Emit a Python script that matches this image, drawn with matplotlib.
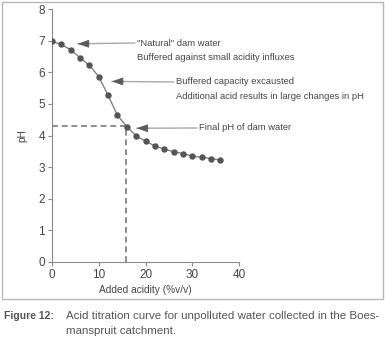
import matplotlib
matplotlib.use("Agg")
import matplotlib.pyplot as plt
from matplotlib.patches import Rectangle

added_acidity = [0, 2, 4, 6, 8, 10, 12, 14, 16, 18, 20, 22, 24, 26, 28, 30, 32, 34, 36]
ph_values = [6.98, 6.88, 6.71, 6.46, 6.22, 5.86, 5.27, 4.64, 4.28, 3.99, 3.82, 3.67, 3.57,
             3.49, 3.43, 3.35, 3.31, 3.27, 3.22]
final_x = 15.8
final_ph = 4.31
x_ticks = [0, 10, 20, 30, 40]
y_ticks = [0, 1, 2, 3, 4, 5, 6, 7, 8]
annotations = [
    (5.5, 6.90, ['"Natural" dam water', 'Buffered against small acidity influxes']),
    (12.8, 5.71, ['Buffered capacity excausted', 'Additional acid results in large changes in pH']),
    (18.1, 4.23, ['Final pH of dam water']),
]
caption_label = "Figure 12:"
caption_lines = ["Acid titration curve for unpolluted water collected in the Boes-",
                 "manspruit catchment."]

plt.rcParams['font.family'] = ['Liberation Sans', 'DejaVu Sans']
TXT = '#444444'
AX = '#8a8a8a'

W, H = 385, 347
fig = plt.figure(figsize=(W / 100, H / 100), dpi=100)
fig.patch.set_facecolor('white')
renderer = fig.canvas.get_renderer()


def fit_size(text, target_px, **kw):
    t = fig.text(0, 0, text, fontsize=10, **kw)
    w = t.get_window_extent(renderer=renderer).width
    t.remove()
    return 10 * target_px / w


# frame around plot area
fig.patches.append(Rectangle((1.5 / W, 1 - 299 / H), 381.5 / W, 297.5 / H,
                             transform=fig.transFigure, fill=False,
                             edgecolor='#b8b8b8', linewidth=1.0))

ax = fig.add_axes([52 / W, 1 - 262 / H, (239 - 52) / W, (262 - 9) / H])
ax.set_xlim(0, 40)
ax.set_ylim(0, 8)

ax.plot([0, final_x], [final_ph, final_ph], ls=(0, (3, 2)), color='#8c8c8c', lw=1.4, zorder=1)
ax.plot([final_x, final_x], [0, final_ph], ls=(0, (3, 2)), color='#8c8c8c', lw=1.4, zorder=1)

ax.plot(added_acidity, ph_values, color='#777777', lw=0.9, zorder=2)
ax.plot(added_acidity, ph_values, 'o', color='#555555', ms=3.6, zorder=3)

for spine in ['top', 'right']:
    ax.spines[spine].set_visible(False)
for spine in ['left', 'bottom']:
    ax.spines[spine].set_color(AX)
    ax.spines[spine].set_linewidth(0.8)
ax.set_xticks(x_ticks)
ax.set_yticks(y_ticks)
ax.tick_params(colors=AX, labelcolor=TXT, labelsize=8.5, length=3, width=0.8, pad=2)
xl_size = fit_size('Added acidity (%v/v)', 84) * 1.1
ax.set_xlabel('Added acidity (%v/v)', color=TXT, fontsize=xl_size, labelpad=3)
ax.set_ylabel('pH', color=TXT, fontsize=xl_size, labelpad=8)

# annotation arrows: text positions in pixel space
ann_size = fit_size(annotations[1][2][1], 171) * 1.1
text_px = [(137, 43), (176, 82), (199, 128)]
for (tx, ty, lines), (px, py) in zip(annotations, text_px):
    xf, yf = px / W, 1 - py / H
    ax.annotate('', xy=(tx, ty), xycoords='data', xytext=(xf - 2 / W, yf),
                textcoords='figure fraction',
                arrowprops=dict(arrowstyle='-', color='#a8a8a8', lw=1.0,
                                shrinkA=0, shrinkB=0))
    ax.annotate('', xy=(tx, ty), xycoords='data', xytext=(tx + 2.5, ty),
                textcoords='data',
                arrowprops=dict(arrowstyle='-|>,head_length=1.0,head_width=0.35',
                                color='#5a5a5a', lw=0.6, shrinkA=0, shrinkB=0,
                                mutation_scale=7))
    for i, line in enumerate(lines):
        fig.text(xf, yf - i * 14 / H, line, fontsize=ann_size, color=TXT,
                 va='center', ha='left')

cap_size = fit_size(caption_lines[0], 313)
lab_size = fit_size(caption_label, 50, fontweight='bold')
fig.text(4 / W, 1 - 316 / H, caption_label, fontsize=min(lab_size, cap_size * 1.05),
         color='#555555', fontweight='bold', va='center', ha='left')
for i, line in enumerate(caption_lines):
    fig.text(66 / W, 1 - (316 + 15 * i) / H, line, fontsize=cap_size, color='#555555',
             va='center', ha='left')

fig.savefig('out.png', dpi=100, facecolor='white')
